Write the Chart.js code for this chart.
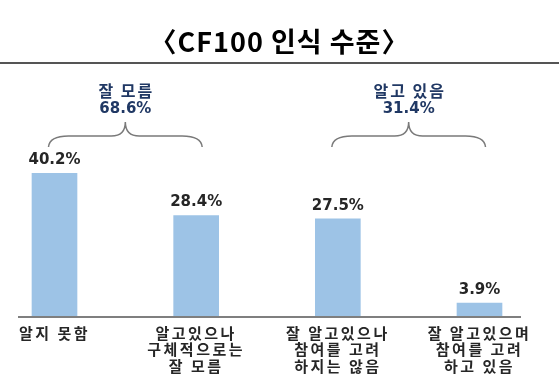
<!DOCTYPE html>
<html><head><meta charset="utf-8">
<script src="https://cdn.jsdelivr.net/npm/chart.js@4"></script>
<style>html,body{margin:0;padding:0;background:#fff}#wrap{width:559px;height:384px}</style>
</head><body><div id="wrap"><canvas id="c" width="559" height="384"></canvas></div>
<script>
const chartTitle = '〈CF100 인식 수준〉';
const categories = [
  ['알지 못함'],
  ['알고있으나', '구체적으로는', '잘 모름'],
  ['잘 알고있으나', '참여를 고려', '하지는 않음'],
  ['잘 알고있으며', '참여를 고려', '하고 있음']
];
const values = [40.2, 28.4, 27.5, 3.9];
const groupNames = ['잘 모름', '알고 있음'];
const groupTotals = [68.6, 31.4];
const groupMembers = [[0, 1], [2, 3]];

const KR = '"Noto Sans CJK KR", "Noto Sans", sans-serif';

const deco = {
  id: 'deco',
  beforeDraw(chart) {
    const ctx = chart.ctx;
    ctx.save();
    ctx.fillStyle = '#fff';
    ctx.fillRect(0, 0, chart.width, chart.height);
    ctx.fillStyle = '#000';
    ctx.font = 'bold 27px ' + KR;
    ctx.letterSpacing = '1px';
    ctx.textAlign = 'center';
    ctx.textBaseline = 'middle';
    ctx.fillText(chartTitle, chart.width / 2, 42);
    ctx.fillStyle = '#555';
    ctx.fillRect(0, 62, chart.width, 2);
    ctx.restore();
    ctx.letterSpacing = '2.5px';
  },
  beforeDatasetsDraw(chart) {
    chart.ctx.letterSpacing = '0px';
  },
  afterDatasetsDraw(chart) {
    const ctx = chart.ctx;
    const meta = chart.getDatasetMeta(0);
    const ys = chart.scales.y;
    const ca = chart.chartArea;
    ctx.save();
    // baseline
    const y0 = ys.getPixelForValue(0);
    ctx.fillStyle = '#7f7f7f';
    ctx.fillRect(ca.left - 36.5, y0 - 1, (ca.right + 41.5) - (ca.left - 36.5), 2);
    // value labels
    ctx.fillStyle = '#262626';
    ctx.font = 'bold 15px "DejaVu Sans", sans-serif';
    ctx.textAlign = 'center';
    ctx.textBaseline = 'middle';
    meta.data.forEach((bar, i) => {
      ctx.fillText(values[i].toFixed(1) + '%', bar.x, bar.y - 13);
    });
    // brackets + group labels
    groupMembers.forEach((g, k) => {
      const L = meta.data[g[0]].x - 6;
      const R = meta.data[g[1]].x + 6;
      const P = (L + R) / 2;
      const yEnd = ca.top + 73, yMid = ca.top + 62, yTip = ca.top + 48;
      ctx.strokeStyle = '#7a7a7a';
      ctx.lineWidth = 1.5;
      ctx.beginPath();
      ctx.moveTo(L, yEnd);
      ctx.quadraticCurveTo(L + 1, yMid, L + 20, yMid);
      ctx.lineTo(P - 14, yMid);
      ctx.quadraticCurveTo(P, yMid, P, yTip);
      ctx.quadraticCurveTo(P, yMid, P + 14, yMid);
      ctx.lineTo(R - 20, yMid);
      ctx.quadraticCurveTo(R - 1, yMid, R, yEnd);
      ctx.stroke();
      ctx.fillStyle = '#203864';
      ctx.letterSpacing = '2px';
      ctx.font = 'bold 16px ' + KR;
      ctx.fillText(groupNames[k], P + 1, ca.top + 17);
      ctx.letterSpacing = '0px';
      ctx.font = 'bold 15px "DejaVu Sans", sans-serif';
      ctx.fillText(groupTotals[k].toFixed(1) + '%', P, ca.top + 35);
    });
    ctx.restore();
  }
};

new Chart(document.getElementById('c'), {
  type: 'bar',
  data: {
    labels: categories,
    datasets: [{
      data: values,
      backgroundColor: '#9DC3E6',
      borderWidth: 0,
      barThickness: 45,
      clip: false
    }]
  },
  options: {
    responsive: false,
    devicePixelRatio: 1,
    animation: false,
    layout: { padding: { top: 74, left: 54.5, right: 79.5, bottom: 1.5 } },
    plugins: { legend: { display: false }, tooltip: { enabled: false }, title: { display: false } },
    scales: {
      x: {
        type: 'category',
        offset: false,
        grid: { display: false, drawTicks: false },
        border: { display: false },
        ticks: {
          padding: 8,
          maxRotation: 0,
          autoSkip: false,
          color: '#262626',
          font: { family: KR, size: 15, weight: 'bold', lineHeight: '16.5px' }
        }
      },
      y: { display: false, min: 0, max: 68 }
    }
  },
  plugins: [deco]
});
</script>
</body></html>
